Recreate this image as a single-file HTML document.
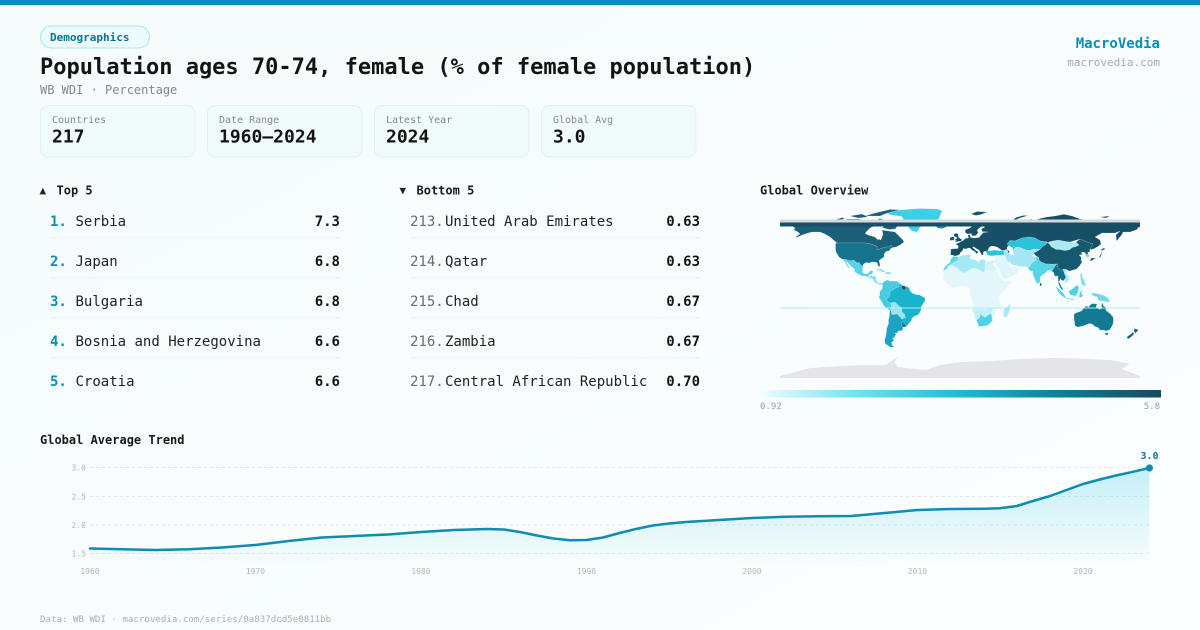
<!DOCTYPE html>
<html><head><meta charset="utf-8"><style>
html,body{margin:0;padding:0;background:#f8fcfc;}
svg{display:block;}
text{font-family:"DejaVu Sans Mono","Liberation Mono",monospace;}
</style></head><body>
<svg width="1200" height="630" viewBox="0 0 1200 630" xmlns="http://www.w3.org/2000/svg">
<defs>
<linearGradient id="bg" x1="0" y1="0" x2="1" y2="1"><stop offset="0" stop-color="#f5fbfb"/><stop offset="1" stop-color="#fbfefe"/></linearGradient>
<linearGradient id="cb" x1="0" y1="0" x2="1" y2="0">
<stop offset="0" stop-color="#f0fdff"/><stop offset="0.25" stop-color="#6ee0f1"/><stop offset="0.5" stop-color="#1fbad5"/><stop offset="0.75" stop-color="#0f7d99"/><stop offset="1" stop-color="#184a5e"/></linearGradient>
<linearGradient id="area" x1="0" y1="0" x2="0" y2="1"><stop offset="0" stop-color="#22c3e0" stop-opacity="0.25"/><stop offset="1" stop-color="#22c3e0" stop-opacity="0.02"/></linearGradient>
<clipPath id="mapclip"><rect x="778" y="207" width="364" height="171"/></clipPath>
</defs>
<rect width="1200" height="630" fill="url(#bg)"/>
<rect x="0" y="0" width="1200" height="5" fill="#0a8fb3"/>

<!-- header -->
<rect x="40.5" y="26" width="109" height="22" rx="11" fill="#ecfbfd" stroke="#a8e7f2" stroke-width="1"/>
<text x="50" y="41" font-size="11" font-weight="bold" fill="#0e7490">Demographics</text>
<text x="40" y="74" font-size="22" font-weight="bold" fill="#141414">Population ages 70-74, female (% of female population)</text>
<text x="40" y="94" font-size="12" fill="#888">WB WDI · Percentage</text>
<text x="1160" y="48" font-size="14" font-weight="bold" fill="#0a8fb3" text-anchor="end">MacroVedia</text>
<text x="1160" y="66" font-size="11" fill="#a8a8a8" text-anchor="end">macrovedia.com</text>

<!-- cards -->
<g>
<rect x="40.5" y="105.5" width="154.5" height="51.5" rx="8" fill="#f0fbfb" stroke="#e2f1f2"/>
<text x="52" y="123" font-size="10" fill="#888">Countries</text>
<text x="52" y="142.7" font-size="18" font-weight="bold" fill="#141414">217</text>
<rect x="207.5" y="105.5" width="154.5" height="51.5" rx="8" fill="#f0fbfb" stroke="#e2f1f2"/>
<text x="219" y="123" font-size="10" fill="#888">Date Range</text>
<text x="219" y="142.7" font-size="18" font-weight="bold" fill="#141414">1960–2024</text>
<rect x="374.5" y="105.5" width="154.5" height="51.5" rx="8" fill="#f0fbfb" stroke="#e2f1f2"/>
<text x="386" y="123" font-size="10" fill="#888">Latest Year</text>
<text x="386" y="142.7" font-size="18" font-weight="bold" fill="#141414">2024</text>
<rect x="541.5" y="105.5" width="154.5" height="51.5" rx="8" fill="#f0fbfb" stroke="#e2f1f2"/>
<text x="553" y="123" font-size="10" fill="#888">Global Avg</text>
<text x="553" y="142.7" font-size="18" font-weight="bold" fill="#141414">3.0</text>
</g>

<!-- top 5 -->
<text x="39.5" y="194" font-size="11" fill="#222">▲</text>
<text x="56.5" y="194.3" font-size="12" font-weight="bold" fill="#1a1a1a">Top 5</text>
<g font-size="14">
<text x="50" y="226" font-weight="bold" fill="#0a8fb3">1.</text><text x="75.5" y="226" fill="#222">Serbia</text><text x="340" y="226" font-weight="bold" fill="#141414" text-anchor="end">7.3</text>
<text x="50" y="266" font-weight="bold" fill="#0a8fb3">2.</text><text x="75.5" y="266" fill="#222">Japan</text><text x="340" y="266" font-weight="bold" fill="#141414" text-anchor="end">6.8</text>
<text x="50" y="306" font-weight="bold" fill="#0a8fb3">3.</text><text x="75.5" y="306" fill="#222">Bulgaria</text><text x="340" y="306" font-weight="bold" fill="#141414" text-anchor="end">6.8</text>
<text x="50" y="346" font-weight="bold" fill="#0a8fb3">4.</text><text x="75.5" y="346" fill="#222">Bosnia and Herzegovina</text><text x="340" y="346" font-weight="bold" fill="#141414" text-anchor="end">6.6</text>
<text x="50" y="386" font-weight="bold" fill="#0a8fb3">5.</text><text x="75.5" y="386" fill="#222">Croatia</text><text x="340" y="386" font-weight="bold" fill="#141414" text-anchor="end">6.6</text>
</g>
<g fill="#edf3f4">
<rect x="50" y="237" width="290" height="1.3"/><rect x="50" y="277" width="290" height="1.3"/><rect x="50" y="317" width="290" height="1.3"/><rect x="50" y="357" width="290" height="1.3"/>
<rect x="410" y="237" width="290" height="1.3"/><rect x="410" y="277" width="290" height="1.3"/><rect x="410" y="317" width="290" height="1.3"/><rect x="410" y="357" width="290" height="1.3"/>
</g>

<!-- bottom 5 -->
<text x="399.5" y="194" font-size="11" fill="#222">▼</text>
<text x="416.5" y="194.3" font-size="12" font-weight="bold" fill="#1a1a1a">Bottom 5</text>
<g font-size="14">
<text x="410" y="226" fill="#6b6b6b">213.</text><text x="445" y="226" fill="#222">United Arab Emirates</text><text x="700" y="226" font-weight="bold" fill="#141414" text-anchor="end">0.63</text>
<text x="410" y="266" fill="#6b6b6b">214.</text><text x="445" y="266" fill="#222">Qatar</text><text x="700" y="266" font-weight="bold" fill="#141414" text-anchor="end">0.63</text>
<text x="410" y="306" fill="#6b6b6b">215.</text><text x="445" y="306" fill="#222">Chad</text><text x="700" y="306" font-weight="bold" fill="#141414" text-anchor="end">0.67</text>
<text x="410" y="346" fill="#6b6b6b">216.</text><text x="445" y="346" fill="#222">Zambia</text><text x="700" y="346" font-weight="bold" fill="#141414" text-anchor="end">0.67</text>
<text x="410" y="386" fill="#6b6b6b">217.</text><text x="445" y="386" fill="#222">Central African Republic</text><text x="700" y="386" font-weight="bold" fill="#141414" text-anchor="end">0.70</text>
</g>

<!-- map -->
<text x="760" y="194.3" font-size="12" font-weight="bold" fill="#1a1a1a">Global Overview</text>
<g clip-path="url(#mapclip)">
<g transform="translate(960,292) scale(1,-1)" stroke="#ffffff" stroke-width="0.25" stroke-opacity="0.6">
<!-- Antarctica -->
<polygon fill="#e4e4e9" points="-180,-90 -180,-84 -150,-76 -120,-74 -100,-73 -75,-73 -64,-66 -58,-63.5 -62,-66 -66,-70 -62,-75 -35,-78 -20,-73 0,-70 30,-69 60,-67 90,-66 120,-66.5 150,-68 165,-70.5 170,-72 162,-77 180,-84 180,-90"/>
<!-- Canada -->
<polygon fill="#1b5f78" points="-168,66 -162,70 -156,71.3 -141,69.6 -128,70 -115,68.5 -95,68 -90,68.5 -82,68 -82,63 -90,63 -94,59 -92,57 -85,55 -82,53 -79,52 -77,58 -78,62 -72,61 -65,60 -61,56 -57,52 -56,50 -60,47 -64,45 -67,44.5 -69,47 -71,45 -75,45 -79,43.5 -83,42 -83,45.5 -89,48 -95,49 -123,49 -130,55 -135,58 -140,60 -148,60 -152,59 -158,57 -162,55 -165,54.5 -160,58 -162,60 -166,62 -165,64 -168,66"/>
<polygon fill="#f8fcfc" stroke="none" points="-95,58.5 -93,61 -90,64 -86,66 -82,66.5 -79,63 -78,59 -80,55.5 -82,52 -86,55.5 -92,57"/>
<polygon fill="#1b5f78" points="-80,73.5 -72,71 -67,69 -62,66.5 -65,63 -71,62.5 -78,64.5 -73,67 -80,69.5 -88,70 -80,73.5"/>
<polygon fill="#1b5f78" points="-95,76 -85,79 -70,82.5 -60,82.2 -74,78.5 -80,76"/>
<polygon fill="#1b5f78" points="-120,71.5 -112,73 -100,73 -100,69 -110,68 -117,69"/>
<polygon fill="#1b5f78" points="-125,72 -118,74.5 -115,73"/>
<polygon fill="#1b5f78" points="-110,76 -98,78 -92,75 -102,74"/>
<!-- USA -->
<polygon fill="#15738e" points="-124.5,48.5 -123,49 -95,49 -89,48 -83,45.5 -83,42 -79,43.5 -75,45 -71,45 -69,47 -67,44.5 -70,43 -70,41.5 -74,40.5 -76,38 -76,35 -81,31.5 -80,27 -80.5,25 -82,26.5 -83,29.5 -85,30 -89,30 -90,29 -94,29.5 -97,27.5 -97,26 -99,26.5 -101,29.5 -103,29 -106,31.7 -111,31.3 -114.7,32.7 -117,32.5 -120.5,34.5 -122.5,37.5 -124,40 -124.5,43"/>
<!-- Mexico & Central America -->
<polygon fill="#55d4e8" points="-117,32.5 -114.7,32.7 -111,31.3 -106,31.7 -103,29 -101,29.5 -99,26.5 -97,26 -97.5,22 -97,19 -94.5,18 -91,19 -90.5,21 -87,21.5 -87.5,18.5 -89,17.8 -91,17.3 -92,14.5 -95,16 -98,16 -103,18.5 -105.5,20.5 -105.5,23 -109,26 -112.5,29.5 -114.5,31 -112,27 -110,23 -112,24.5 -114,28 -115,30"/>
<polygon fill="#92e1ef" points="-92,14.5 -89,17.8 -88,16 -84,15.8 -83.5,11 -81.5,9 -79,9.5 -77.5,8.5 -78,7 -80,7.5 -82.5,8 -85.7,10 -87.5,13"/>
<polygon fill="#6fd9eb" points="-85,21.8 -80,23.2 -74.2,20.2 -77.5,19.9 -80,21.8"/>
<polygon fill="#6fd9eb" points="-74.5,19.8 -70,19.8 -68.5,18.5 -72,18 -74.5,18.3"/>
<!-- Greenland, Iceland -->
<polygon fill="#3dcfe5" points="-73,78 -67,80.5 -60,82 -40,83.5 -22,83 -18,81 -20,76 -22,72 -24,70 -32,68 -40,65 -43,60 -48,61 -51,64 -53,67 -55,70 -58,75.5 -65,76.5"/>
<polygon fill="#1a90ad" points="-24,65.5 -22,66.5 -15,66.5 -13.5,65 -18,63.4 -22,63.8"/>
<!-- South America -->
<polygon fill="#1ab3ce" points="-77.5,8.5 -75,11 -72,12 -71,11 -68,10.7 -63,10.7 -60,8.5 -57,6 -52,5 -51,4 -50,1.5 -48,-1 -44,-2.5 -40,-3 -37,-5 -35,-6 -35,-9 -37,-12 -39,-15 -39,-18 -40.5,-21 -42,-23 -45,-23.8 -48,-26 -48.6,-28.5 -51,-31 -53,-34 -55,-35 -57.5,-35 -57,-37 -58,-38.5 -62,-39 -62.3,-40.8 -65,-41 -64,-42.5 -65.5,-45 -67.5,-46.5 -66,-48 -68.5,-50.5 -68.3,-52.5 -66,-55 -70,-55 -72,-53.5 -74.5,-52 -75.5,-48 -74,-44 -73.5,-40 -73.5,-37 -71.5,-32 -71.5,-28 -70.5,-24 -70.2,-18.5 -71.5,-17.2 -76,-14 -78,-10 -80,-7 -81,-5 -80,-3 -80.5,-1 -80,1 -78.5,2 -77.5,4 -77.5,7"/>
<polygon fill="#1ca3bf" points="-65,-22 -62,-22 -58,-24 -54,-26 -55.5,-28 -58,-30 -58.5,-33 -57.5,-35 -57,-37 -58,-38.5 -62,-39 -62.3,-40.8 -65,-41 -64,-42.5 -65.5,-45 -67.5,-46.5 -66,-48 -68.5,-50.5 -68.3,-52.5 -66,-55 -70,-55 -72,-53.5 -74.5,-52 -75.5,-48 -74,-44 -73.5,-40 -73.5,-37 -71.5,-32 -71.5,-28 -70.5,-24 -70.2,-18.5 -69,-19 -68,-22"/>
<polygon fill="#137690" points="-58,-30 -53.5,-33.7 -55,-35 -57.5,-34.8 -58.3,-33"/>
<polygon fill="#9be4f1" points="-69.5,-11 -65,-10 -61.5,-13.5 -58.2,-16 -58,-20 -55.5,-22 -54.5,-25.5 -58,-27.3 -61,-24 -62.5,-22 -68,-22.8 -69,-19 -69.5,-17 -69,-14"/>
<polygon fill="#48cbe1" points="-80,1 -78.5,2 -77.5,4 -77.5,7 -77.5,8.5 -75,11 -72,12 -71,11 -68,10.7 -63,10.7 -60,8.5 -61,5 -64,4 -67,2 -70,0 -70,-4 -73,-7 -73,-9 -71,-10 -69.5,-11 -69,-14 -69.5,-17 -70.2,-18.5 -71.5,-17.2 -76,-14 -78,-10 -80,-7 -81,-5 -80,-3 -80.5,-1"/>
<polygon fill="#164f66" points="-58,6.5 -55,6 -54,3.5 -56,2 -58,3"/>
<!-- Eurasia north (Europe + Russia) -->
<polygon fill="#164f66" points="-9.5,37 -9,43 -2,43.5 -1.5,46 -4.5,48 -1.5,49 2,51 4,52 5,53.5 8.5,54 8,57 10,57.5 10.5,54.5 14,54 19,54.5 21,57 23.5,59.5 28,60 22,60.5 21.5,63 25,65 22,65.8 18,63 17,61 18.5,60 16,56.5 12.5,56 11,58.5 8,58 5.5,59 5,62 10,64 14,67 18,69.5 25,71 30,70 33,69.3 41,67 44,68.5 50,68 55,68.5 60,69.8 68,68.5 70,73 75,72 80,73.5 87,75 95,76 104,77.7 112,76 120,73 130,71.5 140,72.5 150,71.5 160,70 170,70 180,69 180,65 178,64.5 177,62.5 170,60 163,60 162,57.5 156.5,51 156,57 160,61 155,59 142,59 135,55 140,52 141,48 138,45.5 133,42.8 130.7,42.5 131,45 133,48 127,50 120,53 110,50 100,51 88,49 87,50 80,51 75,54 70,55 62,54 55,51 50,51.5 47,48 49,46 47,43 50,40 49,38 45,39 42,41.5 40,43 37,45 33,46 30,45.5 28.5,43.5 28,41.5 26,40.8 24,40.5 23,39 23.5,38 22,36.5 21,38.5 19.5,41 19,42 16,43.5 13.5,45.5 12.5,44.5 16,41.5 18.5,40 16,38 15.5,40 12,42 10,44 8,44 6,43 3,43.5 3,42 0,39 0,38 -2,36.8 -5,36 -6,36.3 -7.5,37"/>
<polygon fill="#164f66" points="-5.5,50 1.5,51 1.7,52.7 0,53.5 -1.5,55 -2,56 -1.8,57.6 -3,58.6 -5,58.6 -6.2,57 -5.5,55.5 -3,54.5 -3,53.4 -4.7,52.8 -5,51.6 -3.5,51.4"/>
<polygon fill="#164f66" points="-10,51.5 -6,52 -6,53.8 -5.7,55 -8,55.2 -10,54"/>
<polygon fill="#164f66" points="52,71.5 56,74.5 63,76.5 68,76.5 60,74 55,72"/>
<polygon fill="#164f66" points="11,78 17,80.5 27,80 21,77.5 16,76.5"/>
<polygon fill="#164f66" points="140,75 150,76 146,74"/>
<!-- Turkey, Kazakhstan -->
<polygon fill="#2cc3dc" points="26,40.8 28,41.5 30,41.2 35,42 40,41 42,41.5 44.5,39.5 44,37 42,37 38,36.7 36,36 35.5,36.6 32,36.1 29,36.4 27,37.5 26.2,39.5"/>
<polygon fill="#2cc3dc" points="47,48 50,51.5 55,51 62,54 70,55 75,54 80,51 87,50 85,47 82,45 80,42.5 74,43 70,41.5 66,42 60,44.5 56,45 53,42 52.5,44.5 51,45 49,46"/>
<!-- Central Asia / Iran / Pakistan -->
<polygon fill="#a5e8f3" points="53,42 56,45 60,44.5 66,42 70,41.5 74,43 80,42.5 75,39.5 74,37 72,36.5 75,35 77,32.5 74.5,31 71,28 70,26 68,23.7 66.5,25.5 61.5,25.2 57,26 56.5,27 54,26.7 51.5,27.8 50,30 48,30 46,33 45.5,35 44,37 44.5,39.5 42,41.5 45,42 47,43 49,38 50,40 52,37.3 54,37.3 53,40"/>
<polygon fill="#f8fcfc" stroke="none" points="47,45 49,46.5 51,45 53,42 53,40 54,37.3 52,37.3 50,37.5 49,38.5 49.5,40.5 48,42 47,43"/>
<!-- Arabia / Middle East -->
<polygon fill="#dcf6fa" points="34.5,29.5 35,28 38.5,24 40,20 42.5,15.5 43,13 45,13 52,16 57,19 59.5,22.5 56.5,24 56,26 51.5,24.5 50,26 48.5,28.5 48,30 46,33 45.5,35 44,37 42,37 38,36.7 36,36.7 35.5,35 34.5,31.5"/>
<!-- China -->
<polygon fill="#16586e" points="73.5,39.5 75,39.5 80,42.5 82,45 85,47 87,49 88,49 90,47.5 91,45.5 96,42.7 100,42.5 105,41.5 110,42.5 112,44.5 116,45.5 119,47 116,49.8 120,53 127,50 133,48 131,45 130.7,42.5 129.5,42.4 130,40 127.5,39.7 129.5,35.5 126.5,34.5 126,37.5 125,39.5 121.5,40 122,37.5 119,37 121,35 121,32 122,30 119.5,26 116.5,23 113,22 110,21 108,21.5 106.5,22.5 103,22.8 101,21.5 98,24 97.5,28 92,27.8 89,28 86,28 81,30 78.5,32.5 79,34.5 77,35.5 75,37"/>
<polygon fill="#7fdcec" points="126.5,34.5 129.5,35.5 128.5,38 126.5,37.8"/>
<polygon fill="#a9ebf5" points="87.8,49.2 90,50.5 98,52 102,51.3 107,50.3 112,49.5 116,49.8 119,47 116,45.5 112,44.5 110,42.5 105,41.5 100,42.5 96,42.7 91,45.5 90,47.5"/>
<!-- India -->
<polygon fill="#58d4e8" points="68,23.7 70,26 71,28 74.5,31 77,32.5 75,35 77,35.5 79,34.5 78.5,32.5 81,30 86,28 89,28 92,27.8 97,28 95,26 94,24 92.5,22 92,21 90,22 88.5,21.8 87,21.5 86.5,20 80.5,15.5 80,10 77.5,8 76,10 73,17 72.5,21 70,21 68.5,23"/>
<polygon fill="#137088" points="80,9.8 81.8,7.5 81.5,6.2 80,6 79.7,8"/>
<!-- SE Asia -->
<polygon fill="#137088" points="92.5,22 94,24 95,26 97,28 97.5,28 98,24 101,21.5 103,22.8 104,20 105,17 106,15 105,13 103,11 101,12.5 100.5,13.5 99,10 100.5,7 103.5,1.5 101,3 98.5,8 98,16 94.5,16 94,19 92,21"/>
<polygon fill="#a9ebf5" points="103,22.8 106.5,22.5 108,21.5 106,19 109,15 109,11.5 105,8.7 104.5,10.5 105,13 106,15 105,17 104,20"/>
<polygon fill="#4fd2e8" points="95.5,5.5 98,4 104,-2 106,-6 104.5,-5.8 101,-3 98,0.5"/>
<polygon fill="#4fd2e8" points="105.5,-6.8 114.5,-8 114,-7 106,-5.9"/>
<polygon fill="#4fd2e8" points="109,1.5 111,2 114,4.5 117,7 119,5 118,1 116,-4 110.5,-3 109,-0.5"/>
<polygon fill="#4fd2e8" points="119,-5 120.5,1 125,1.5 121,0 123,-4 120.5,-5.5"/>
<polygon fill="#6fd9eb" points="131,-1 134,-1 141,-2.5 145,-4 148,-6 150,-10.5 147,-10 143,-9 141,-9 138,-8 137.5,-5 133,-4"/>
<polygon fill="#86def0" points="120,18.5 122,18.5 122.5,14 124,12.5 126,7 125.5,6 122,7 121,10 120.5,14.5"/>
<!-- Japan -->
<polygon fill="#164f66" points="130,31 131.5,34 135,34 139,35 141,38 142,41 141,42 143.5,44 145.5,43 143,42 141.8,41 142,39 140.5,35 137,34.5 135,33.5 131,31"/>
<!-- Africa -->
<polygon fill="#e3f7fb" points="-17,21 -13,23.5 -12,26 -8.7,27.3 -5,25 3,19 4,19 12,23.5 16,23.5 24,19.5 25,20 25,22 37,22 38.5,18 39.5,15.5 43,12.5 44,10.5 51,11.8 51,10 47,4.5 42,-1 40,-3 39,-6 40.5,-10.5 40.5,-15 35,-20 35.5,-24 33,-26 32.5,-28.5 30,-31.3 27.5,-33.3 22,-34.2 20,-34.8 18.5,-34 17.8,-31 15,-26.5 14.5,-22.5 11.8,-17 13.5,-12 12,-6 9.5,-2.5 9.5,3 8.5,4.5 5,6 1,6 -2,5 -7.5,4.3 -11.5,7 -13,8.5 -15,11 -16.7,12.5 -17.5,14.7 -16.5,16 -16,19.5"/>
<polygon fill="#c2f0f7" points="11.8,-17 14.5,-22.5 15,-26.5 16.5,-28.5 20,-24.8 20,-22 25,-25.5 29,-22.2 31.5,-22.3 33,-17 30,-15.5 25,-17.5 20,-17"/>
<polygon fill="#4fd1e7" points="16.5,-28.5 20,-24.8 20,-22 25,-25.5 29,-22.2 31.5,-22.3 32,-26.5 32.5,-28.5 30,-31.3 27.5,-33.3 22,-34.2 20,-34.8 18.5,-34 17.8,-31"/>
<polygon fill="#a5e9f4" points="-2,35 3,36.8 9,37.2 11,37 10,34 11.5,33 15,32.3 19,30.3 20,32 23,32.7 25,31.7 25,22 24,19.5 16,23.5 12,23.5 4,19 3,19 -5,25 -8.7,27.3 -8.7,28.5 -5,30 -1.5,32"/>
<polygon fill="#d2f4f8" points="25,31.7 29,30.9 32,31.3 34.2,31.3 34.5,29.5 33,28 35.5,24 37,22 25,22"/>
<polygon fill="#5dd5e9" points="-17,21 -16,24 -13,27.5 -10,29.5 -9.5,32.5 -6.5,35.8 -2,35 -1.5,32 -5,30 -8.7,28.5 -8.7,27.3 -12,26 -13,23.5"/>
<polygon fill="#a5e9f4" points="44,-25 47,-25 50.5,-15.5 49.5,-12 47,-15 44,-17 43.5,-22"/>
<!-- Australia / NZ -->
<polygon fill="#147a94" points="114,-22 114,-26 115,-34 118,-35 123,-34 129,-31.5 132,-32 135.5,-34.8 138,-35.5 140,-38 144,-38.3 146.5,-39 150,-37.5 153,-32 153.5,-28 153,-25 150.5,-22 146,-18.5 145.5,-15 143.5,-14 142.5,-10.7 141.5,-13 141.5,-16.5 139.5,-17.5 136,-15 137,-12 132.5,-11.5 130,-13 129,-15 126,-14 123,-17 121.5,-19 116.5,-20.7"/>
<polygon fill="#147a94" points="145,-40.8 148.3,-41 147.5,-43.3 145.5,-43"/>
<polygon fill="#17617a" points="172.7,-34.5 174.5,-36.5 178.5,-37.7 177,-39.5 175,-41.5 174.5,-39.8 173.8,-39 174.5,-37"/>
<polygon fill="#17617a" points="172.7,-40.5 174.3,-41.7 172.5,-43.7 171,-45 169,-46.6 166.5,-46 168,-44 171,-42"/>
</g>
<!-- antimeridian artifacts -->
<rect x="780" y="219.5" width="360" height="3" fill="#d3d9dc"/>
<rect x="780" y="222.5" width="360" height="4" fill="#164f66"/>
<rect x="780" y="307.5" width="360" height="1" fill="#a8ecf5"/>
</g>
<rect x="760" y="390" width="401" height="7.5" fill="url(#cb)"/>
<text x="760" y="409" font-size="9" fill="#999">0.92</text>
<text x="1160" y="409" font-size="9" fill="#999" text-anchor="end">5.8</text>

<!-- trend chart -->
<text x="40" y="444" font-size="12" font-weight="bold" fill="#1a1a1a">Global Average Trend</text>
<g stroke="#e4e7ea" stroke-width="1" stroke-dasharray="3,3">
<line x1="90" y1="467.5" x2="1150" y2="467.5"/><line x1="90" y1="496.5" x2="1150" y2="496.5"/><line x1="90" y1="525" x2="1150" y2="525"/><line x1="90" y1="553.5" x2="1150" y2="553.5"/>
</g>
<g font-size="8" fill="#b5b5b5" text-anchor="end">
<text x="86" y="470.5">3.0</text><text x="86" y="499.3">2.5</text><text x="86" y="528">2.0</text><text x="86" y="556.7">1.5</text>
</g>
<g font-size="8" fill="#b5b5b5" text-anchor="middle">
<text x="90" y="574">1960</text><text x="255.5" y="574">1970</text><text x="421" y="574">1980</text><text x="586.5" y="574">1990</text><text x="752" y="574">2000</text><text x="917.5" y="574">2010</text><text x="1083" y="574">2020</text>
</g>
<path fill="url(#area)" d="M90,548.5 L123,549.3 L156,550 L189,549.3 L222,547.5 L255.5,545 L288.6,541 L321.7,537.5 L354.8,536 L387.9,534.5 L421,532 L454,530 L487,529 L503.8,529.5 L520,532 L536.9,535.5 L553.4,538.5 L570,540.3 L586.5,540 L603,537.5 L619.6,533 L636,529 L652.7,525.5 L669,523.5 L685.8,522 L719,520 L752,518 L785,516.7 L818,516.3 L851.3,516 L884.4,513 L917.5,510 L950.6,509 L983.7,508.7 L1000,508.3 L1016.8,506 L1033,501 L1050,496 L1066.5,490 L1083,484 L1099.7,479.5 L1116,475.5 L1132.8,471.8 L1149.4,468 L1149.4,561 L90,561 Z"/>
<polyline fill="none" stroke="#0e8db1" stroke-width="2.5" stroke-linejoin="round" stroke-linecap="round" points="90,548.5 123,549.3 156,550 189,549.3 222,547.5 255.5,545 288.6,541 321.7,537.5 354.8,536 387.9,534.5 421,532 454,530 487,529 503.8,529.5 520,532 536.9,535.5 553.4,538.5 570,540.3 586.5,540 603,537.5 619.6,533 636,529 652.7,525.5 669,523.5 685.8,522 719,520 752,518 785,516.7 818,516.3 851.3,516 884.4,513 917.5,510 950.6,509 983.7,508.7 1000,508.3 1016.8,506 1033,501 1050,496 1066.5,490 1083,484 1099.7,479.5 1116,475.5 1132.8,471.8 1149.4,468"/>
<circle cx="1149.4" cy="468" r="3.6" fill="#0e8db1"/>
<text x="1149.5" y="459" font-size="10" font-weight="bold" fill="#0e7490" text-anchor="middle">3.0</text>

<text x="40" y="622" font-size="9.15" fill="#adadad">Data: WB WDI · macrovedia.com/series/0a837dcd5e0811bb</text>
</svg>
</body></html>
